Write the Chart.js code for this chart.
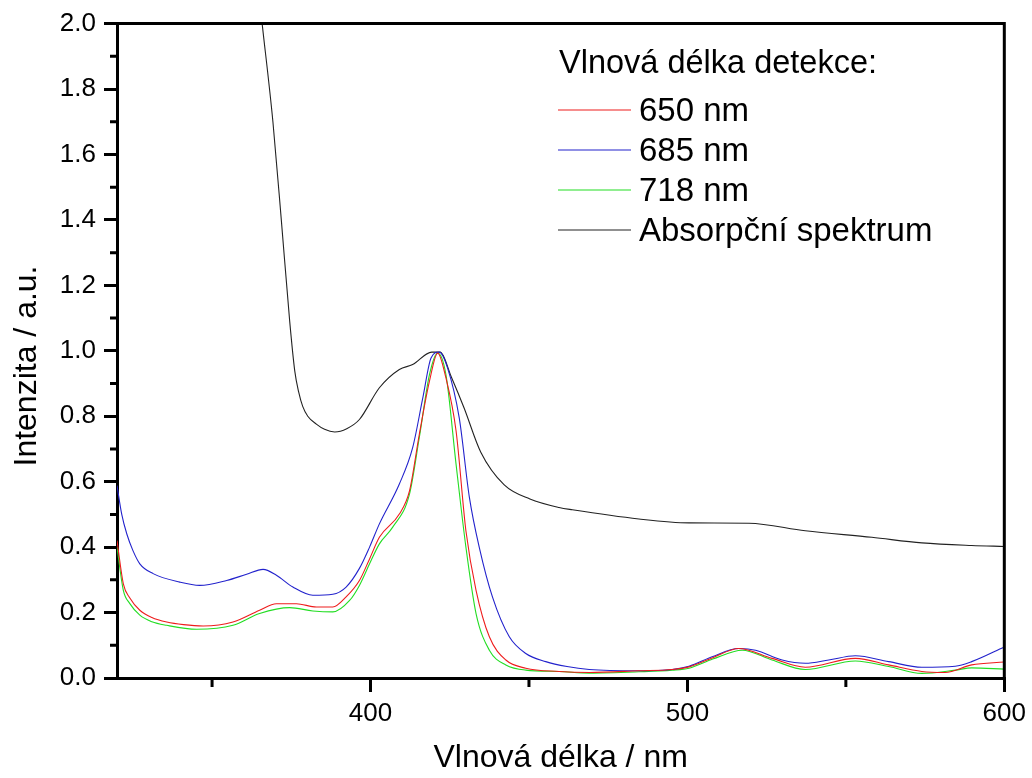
<!DOCTYPE html>
<html>
<head>
<meta charset="utf-8">
<script src="https://cdn.jsdelivr.net/npm/chart.js@4/dist/chart.umd.min.js"></script>
<style>
html,body{margin:0;padding:0;background:#fff;}
#wrap{width:1032px;height:778px;position:relative;}
</style>
</head>
<body>
<div id="wrap"><canvas id="c"></canvas></div>
<script>
// ---- data ----
const seriesLabels = ['650 nm', '685 nm', '718 nm', 'Absorpční spektrum'];
const legendTitle = 'Vlnová délka detekce:';
const xTitle = 'Vlnová délka / nm';
const yTitle = 'Intenzita / a.u.';

const xMajorTicks = [400, 500, 600];
const xMinorTicks = [350, 450, 550];
const yMajorTicks = [0.0, 0.2, 0.4, 0.6, 0.8, 1.0, 1.2, 1.4, 1.6, 1.8, 2.0];
const yMinorTicks = [0.1, 0.3, 0.5, 0.7, 0.9, 1.1, 1.3, 1.5, 1.7, 1.9];

const redNm = [320, 322, 324, 327.2, 331, 335.7, 341, 347.2, 356.6, 365, 370.3, 376.6, 382.9, 388.1, 392.3, 396.5, 399.7, 402.8, 409.1, 412.3, 415.4, 418.6, 421.2, 423.8, 427, 430.1, 433.3, 437.5, 442.7, 449, 459.5, 469, 484.7, 495.2, 500.5, 508, 516.2, 526.7, 537.2, 553, 563.5, 574, 581.3, 589.7, 600];
const redVal = [0.42, 0.288, 0.245, 0.207, 0.185, 0.171, 0.163, 0.159, 0.171, 0.207, 0.227, 0.227, 0.217, 0.217, 0.248, 0.298, 0.364, 0.43, 0.501, 0.572, 0.745, 0.907, 0.993, 0.917, 0.755, 0.45, 0.268, 0.126, 0.055, 0.03, 0.02, 0.017, 0.022, 0.026, 0.034, 0.062, 0.09, 0.06, 0.033, 0.06, 0.04, 0.02, 0.017, 0.04, 0.049];

const blueNm = [320, 321.5, 323.1, 325, 327.2, 331.4, 339.8, 346.1, 354.6, 360.9, 366.1, 370.3, 375.5, 381.8, 388.1, 392.3, 396.5, 399.7, 402.8, 409.1, 413.3, 416.5, 419.1, 421.7, 424.3, 428, 431.2, 434.3, 438.5, 443.8, 449, 455.3, 462, 469, 484.7, 495.2, 500.5, 507.8, 516.2, 521.5, 529.9, 537.2, 544.6, 553, 563.5, 574, 584.5, 589.7, 600];
const blueVal = [0.588, 0.50, 0.44, 0.39, 0.349, 0.319, 0.293, 0.283, 0.298, 0.317, 0.332, 0.314, 0.278, 0.253, 0.256, 0.278, 0.335, 0.40, 0.471, 0.593, 0.704, 0.856, 0.978, 0.996, 0.948, 0.795, 0.552, 0.40, 0.247, 0.126, 0.075, 0.05, 0.035, 0.026, 0.022, 0.026, 0.036, 0.065, 0.09, 0.085, 0.055, 0.045, 0.055, 0.068, 0.05, 0.033, 0.036, 0.05, 0.095];

const greenNm = [320, 322, 324, 327.2, 331, 335.7, 345.1, 356.6, 365, 374.5, 381.8, 388.1, 393.4, 396.5, 399.7, 402.8, 407, 412.3, 415.4, 418.6, 421.2, 423.8, 427, 430.1, 433.3, 437.5, 442.7, 449, 459.5, 469, 484.7, 495.2, 500.5, 508, 517.3, 526.7, 537.2, 553, 563.5, 574, 584.5, 589.7, 600];
const greenVal = [0.40, 0.268, 0.228, 0.192, 0.172, 0.161, 0.149, 0.161, 0.197, 0.215, 0.205, 0.202, 0.237, 0.283, 0.349, 0.41, 0.461, 0.562, 0.735, 0.927, 0.993, 0.927, 0.653, 0.40, 0.197, 0.085, 0.04, 0.024, 0.02, 0.015, 0.019, 0.024, 0.03, 0.058, 0.085, 0.055, 0.026, 0.052, 0.035, 0.014, 0.024, 0.031, 0.027];

const absNm = [365.8, 369.2, 371.9, 374.5, 376.1, 377.3, 378.6, 380.2, 382.9, 385.5, 388.7, 392.5, 396.5, 402.8, 409.1, 413.3, 419.3, 422.0, 425.5, 429.5, 434.8, 442.2, 450.3, 459.5, 463.7, 484.7, 500.5, 519.4, 537.2, 558.2, 574.0, 589.7, 600];
const absVal = [2.0, 1.70, 1.394, 1.09, 0.938, 0.875, 0.83, 0.80, 0.776, 0.760, 0.752, 0.762, 0.79, 0.887, 0.943, 0.958, 0.996, 0.996, 0.92, 0.826, 0.69, 0.59, 0.547, 0.521, 0.514, 0.486, 0.474, 0.473, 0.45, 0.430, 0.413, 0.405, 0.402];

const seriesColors = ['#ee1c1c', '#2222cc', '#22dd22', '#222222'];

// ---- build chart ----
const FONT = '"Liberation Sans", Arial, sans-serif';
const pts = (xs, ys) => xs.map((x, i) => ({x: x, y: ys[i]}));
const allSeries = [pts(redNm, redVal), pts(blueNm, blueVal), pts(greenNm, greenVal), pts(absNm, absVal)];

const datasets = allSeries.map((d, i) => ({
  label: seriesLabels[i],
  data: d,
  borderColor: seriesColors[i],
  borderWidth: 1.1,
  pointRadius: 0,
  fill: false,
  cubicInterpolationMode: 'monotone'
}));

const framePlugin = {
  id: 'frame',
  afterDraw(chart) {
    const ctx = chart.ctx;
    const a = chart.chartArea;
    const xs = chart.scales.x, ys = chart.scales.y;
    ctx.save();
    ctx.strokeStyle = '#000';
    ctx.lineWidth = 3;
    ctx.beginPath();
    ctx.moveTo(a.left - 1.5, a.top);
    ctx.lineTo(a.right, a.top);
    ctx.lineTo(a.right, a.bottom + 1.5);
    ctx.stroke();
    // minor ticks
    ctx.beginPath();
    xMinorTicks.forEach(v => {
      const px = xs.getPixelForValue(v);
      ctx.moveTo(px, a.bottom);
      ctx.lineTo(px, a.bottom + 9);
    });
    yMinorTicks.forEach(v => {
      const py = ys.getPixelForValue(v);
      ctx.moveTo(a.left, py);
      ctx.lineTo(a.left - 7, py);
    });
    ctx.stroke();
    // y axis title
    ctx.fillStyle = '#000';
    ctx.save();
    ctx.translate(27, 366);
    ctx.rotate(-Math.PI / 2);
    ctx.font = '32px ' + FONT;
    ctx.textAlign = 'center';
    ctx.textBaseline = 'middle';
    ctx.fillText(yTitle, 0, 0);
    ctx.restore();
    // legend
    ctx.font = '32.5px ' + FONT;
    ctx.textBaseline = 'alphabetic';
    ctx.textAlign = 'left';
    ctx.fillText(legendTitle, 559, 73);
    ctx.font = '33px ' + FONT;
    chart.data.datasets.forEach((ds, i) => {
      const ly = 110 + i * 40;
      ctx.strokeStyle = ds.borderColor;
      ctx.lineWidth = 1.2;
      ctx.beginPath();
      ctx.moveTo(558, ly);
      ctx.lineTo(631, ly);
      ctx.stroke();
      ctx.fillText(ds.label, 639, ly + 11);
    });
    ctx.restore();
  }
};

new Chart(document.getElementById('c'), {
  type: 'line',
  data: { datasets: datasets },
  plugins: [framePlugin],
  options: {
    responsive: true,
    maintainAspectRatio: false,
    animation: false,
    layout: { padding: { left: 0, top: 21, right: 25, bottom: 0 } },
    plugins: { legend: { display: false }, tooltip: { enabled: false } },
    scales: {
      x: {
        type: 'linear',
        min: 320, max: 600,
        afterBuildTicks: s => { s.ticks = xMajorTicks.map(v => ({value: v})); },
        afterFit: s => { s.height = 100; },
        ticks: { color: '#000', font: { family: FONT, size: 26 }, padding: 6, maxRotation: 0,
                 callback: v => String(v) },
        grid: { drawOnChartArea: false, drawTicks: true, tickLength: 14, color: '#000', lineWidth: 3 },
        border: { display: true, color: '#000', width: 3 },
        title: { display: true, text: xTitle, color: '#000', font: { family: FONT, size: 32 }, padding: { top: 0, bottom: 1 } }
      },
      y: {
        type: 'linear',
        min: 0, max: 2,
        afterBuildTicks: s => { s.ticks = yMajorTicks.map(v => ({value: v})); },
        afterFit: s => { s.width = 117; },
        ticks: { color: '#000', font: { family: FONT, size: 26 }, padding: 8,
                 callback: v => Number(v).toFixed(1) },
        grid: { drawOnChartArea: false, drawTicks: true, tickLength: 13, color: '#000', lineWidth: 3 },
        border: { display: true, color: '#000', width: 3 },
        title: { display: false, text: yTitle }
      }
    }
  }
});
</script>
</body>
</html>
